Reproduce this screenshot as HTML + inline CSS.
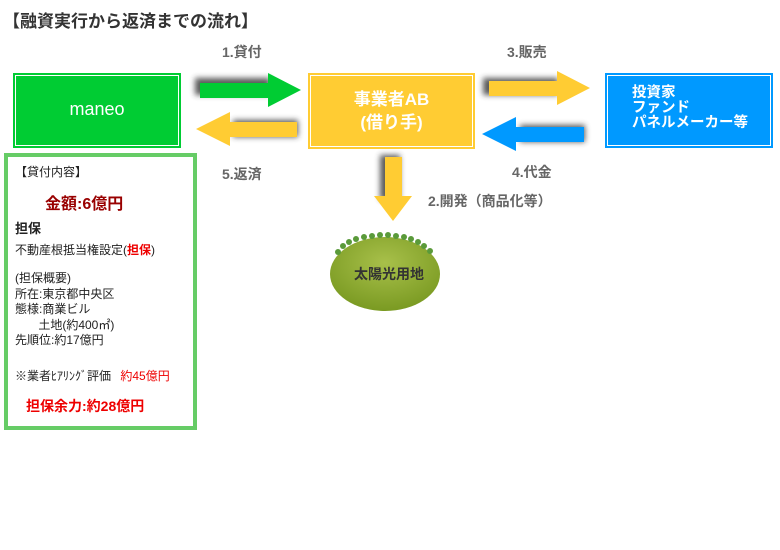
<!DOCTYPE html>
<html><head><meta charset="utf-8"><style>
body{margin:0;width:780px;height:550px;background:#fff;position:relative;overflow:hidden;font-family:"Liberation Sans","Noto Sans CJK JP",sans-serif;}
.a{position:absolute;white-space:nowrap}
.box{position:absolute;box-sizing:border-box;border:1px solid;outline-offset:0}
.lbl{position:absolute;font-size:14px;color:#666;font-weight:bold;white-space:nowrap}
</style></head><body>
<div class="a" style="left:3px;top:7px;font-size:17px;font-weight:bold;color:#333">【融資実行から返済までの流れ】</div>

<div class="box" style="left:13px;top:73px;width:168px;height:75px;background:#00cc33;border:2px solid #00cc33;box-shadow:inset 0 0 0 1px #fff"></div>
<div class="a" style="left:13px;top:99px;width:168px;text-align:center;color:#fff;font-size:18px">maneo</div>

<div class="box" style="left:308px;top:73px;width:167px;height:76px;background:#ffcc33;border:2px solid #ffcc33;box-shadow:inset 0 0 0 1px #fff"></div>
<div class="a" style="left:308px;top:88px;width:167px;text-align:center;color:#fff;font-size:17px;font-weight:bold;line-height:23px">事業者AB<br>(借り手)</div>

<div class="box" style="left:605px;top:73px;width:168px;height:75px;background:#0099ff;border:2px solid #0099ff;box-shadow:inset 0 0 0 1px #fff"></div>
<div class="a" style="left:632px;top:86px;color:#fff;font-size:14.5px;font-weight:bold;line-height:15px">投資家<br>ファンド<br>パネルメーカー等</div>

<svg class="a" style="left:0;top:0" width="780" height="550">
<defs><filter id="s" x="-20%" y="-30%" width="140%" height="160%"><feGaussianBlur stdDeviation="3"/></filter></defs>
<g filter="url(#s)" fill="#333" opacity=".8">
<rect x="195" y="78" width="75" height="17"/>
<rect x="233" y="120" width="65" height="17"/>
<rect x="483" y="78" width="75" height="17"/>
<rect x="520" y="125" width="65" height="17"/>
<rect x="380" y="155" width="20" height="45"/>
</g>
<polygon points="200,83 268,83 268,73 301,90 268,107 268,98 200,98" fill="#00cc33"/>
<polygon points="297,122 230,122 230,112 196,129 230,146 230,137 297,137" fill="#ffcc33"/>
<polygon points="489,81 557,81 557,71 590,88 557,105 557,96 489,96" fill="#ffcc33"/>
<polygon points="584,127 516,127 516,117 482,134 516,151 516,142 584,142" fill="#0099ff"/>
<polygon points="385,157 402,157 402,196 412,196 393,221 374,196 385,196" fill="#ffcc33"/>
<defs><radialGradient id="g" cx="50%" cy="35%" r="65%"><stop offset="0" stop-color="#a8c04a"/><stop offset="1" stop-color="#7a9a22"/></radialGradient></defs>
<ellipse cx="385" cy="274" rx="55" ry="37" fill="url(#g)"/>
<g fill="#5a9a3a">
<circle cx="338" cy="252" r="3"/><circle cx="343" cy="246" r="3"/><circle cx="349" cy="242" r="3"/><circle cx="356" cy="239" r="3"/><circle cx="364" cy="237" r="3"/><circle cx="372" cy="236" r="3"/><circle cx="380" cy="235" r="3"/><circle cx="388" cy="235" r="3"/><circle cx="396" cy="236" r="3"/><circle cx="404" cy="237" r="3"/><circle cx="411" cy="239" r="3"/><circle cx="418" cy="242" r="3"/><circle cx="424" cy="246" r="3"/><circle cx="430" cy="251" r="3"/>
</g>
</svg>
<div class="a" style="left:354px;top:264px;font-size:14px;font-weight:bold;color:#333">太陽光用地</div>

<div class="lbl" style="left:222px;top:42px">1.貸付</div>
<div class="lbl" style="left:507px;top:42px">3.販売</div>
<div class="lbl" style="left:222px;top:164px">5.返済</div>
<div class="lbl" style="left:512px;top:162px">4.代金</div>
<div class="lbl" style="left:428px;top:191px">2.開発（商品化等）</div>

<div class="box" style="left:4px;top:153px;width:193px;height:277px;border:4px solid #66cc66"></div>
<div class="a" style="left:15px;top:163px;font-size:12px;color:#222">【貸付内容】</div>
<div class="a" style="left:45px;top:190px;font-size:16px;font-weight:bold;color:#990000">金額:6億円</div>
<div class="a" style="left:15px;top:218px;font-size:13px;font-weight:bold;color:#222">担保</div>
<div class="a" style="left:15px;top:241px;font-size:12px;color:#222">不動産根抵当権設定(<b style="color:#e00">担保</b>)</div>
<div class="a" style="left:15px;top:271px;font-size:12px;color:#222;line-height:15.5px">(担保概要)<br>所在:東京都中央区<br>態様:商業ビル<br>&nbsp;&nbsp;&nbsp;&nbsp;&nbsp;&nbsp;&nbsp;土地(約400㎡)<br>先順位:約17億円</div>
<div class="a" style="left:15px;top:367px;font-size:12px;color:#222">※業者ﾋｱﾘﾝｸﾞ評価 <span style="color:#e00;margin-left:6px">約45億円</span></div>
<div class="a" style="left:26px;top:396px;font-size:14px;font-weight:bold;color:#e00">担保余力:約28億円</div>
</body></html>
